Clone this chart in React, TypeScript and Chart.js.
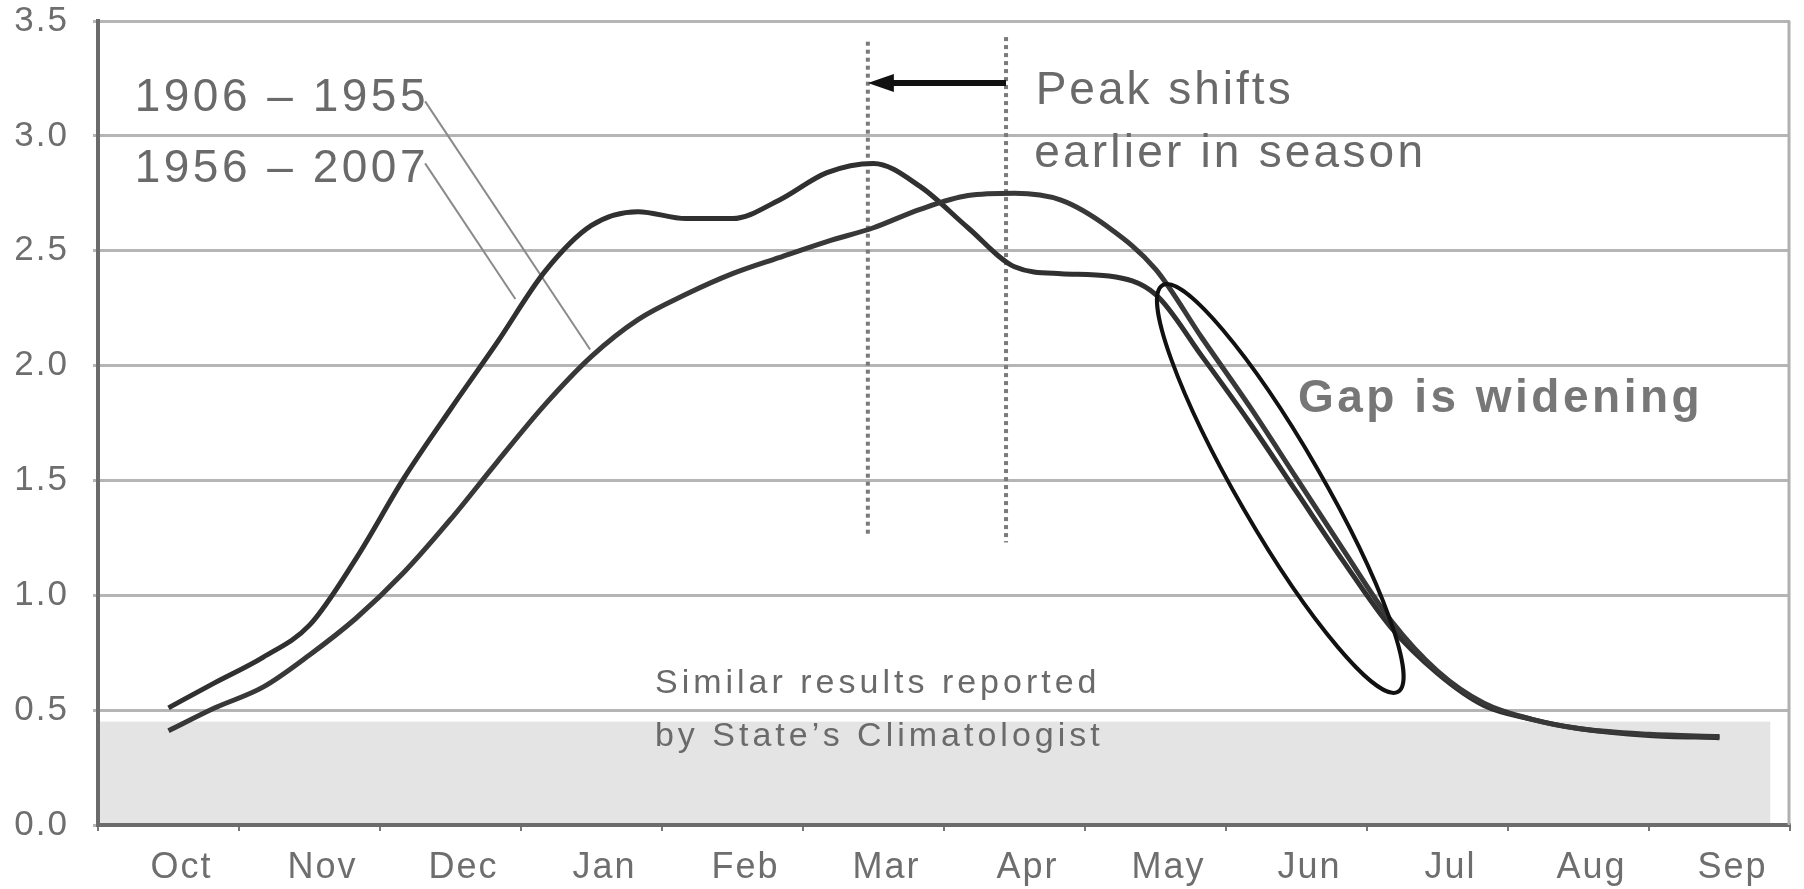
import React, { useEffect, useRef } from 'react';
import { Chart, registerables } from 'chart.js';

Chart.register(...registerables);

// Categories (months of the water year)
const monthLabels = ['Oct', 'Nov', 'Dec', 'Jan', 'Feb', 'Mar', 'Apr', 'May', 'Jun', 'Jul', 'Aug', 'Sep'];

// Positions along the season (month index, 0 = Oct)
const samplePos = [0, 0.33, 0.67, 1, 1.33, 1.67, 2, 2.33, 2.67, 3, 3.33, 3.67, 4, 4.33, 4.67, 5, 5.33, 5.67, 6, 6.33, 6.67, 7, 7.33, 7.67, 8, 8.33, 8.67, 9, 9.33, 9.67, 10, 10.5, 11];

// 1956 – 2007 (earlier peak)
const series1956 = [0.51, 0.62, 0.73, 0.87, 1.16, 1.51, 1.81, 2.1, 2.41, 2.61, 2.67, 2.64, 2.64, 2.72, 2.84, 2.88, 2.78, 2.6, 2.43, 2.4, 2.39, 2.31, 2.04, 1.75, 1.45, 1.15, 0.86, 0.66, 0.52, 0.46, 0.42, 0.39, 0.38];

// 1906 – 1955 (later peak)
const series1906 = [0.41, 0.51, 0.6, 0.74, 0.9, 1.1, 1.33, 1.58, 1.83, 2.04, 2.2, 2.31, 2.4, 2.47, 2.54, 2.6, 2.68, 2.74, 2.75, 2.72, 2.6, 2.42, 2.12, 1.82, 1.51, 1.2, 0.89, 0.67, 0.53, 0.46, 0.42, 0.395, 0.385];

// Annotations, in data units (month index, value)
const peakLines = [
  { m: 4.96, from: 1.26, to: 3.41 },
  { m: 5.94, from: 1.23, to: 3.43 },
];
const shiftArrow = { from: 5.94, to: 4.96, v: 3.23 };
const lowBand = { mEnd: 11.36, vTop: 0.45 };
const gapEllipse = { m1: 7.05, v1: 2.35, m2: 8.72, v2: 0.58, halfWidth: 42 };
const connectors = [
  { m1: 1.82, v1: 3.15, m2: 2.99, v2: 2.07 },
  { m1: 1.82, v1: 2.88, m2: 2.46, v2: 2.29 },
];
const texts = [
  { s: '1906 – 1955', m: -0.24, v: 3.11, size: 46, bold: false, ls: 3.5, color: '#6a6a6a' },
  { s: '1956 – 2007', m: -0.24, v: 2.8, size: 46, bold: false, ls: 3.5, color: '#6a6a6a' },
  { s: 'Peak shifts', m: 6.15, v: 3.14, size: 46, bold: false, ls: 3, color: '#6a6a6a' },
  { s: 'earlier in season', m: 6.14, v: 2.865, size: 46, bold: false, ls: 3.2, color: '#6a6a6a' },
  { s: 'Gap is widening', m: 8.01, v: 1.8, size: 46, bold: true, ls: 3.5, color: '#777777' },
  { s: 'Similar results reported', m: 3.45, v: 0.574, size: 34, bold: false, ls: 4, color: '#6a6a6a' },
  { s: 'by State’s Climatologist', m: 3.45, v: 0.343, size: 34, bold: false, ls: 4, color: '#6a6a6a' },
];

const FONT = '"Liberation Sans", Arial, Helvetica, sans-serif';

const overlayPlugin = {
  id: 'overlay',
  beforeDraw(chart: any) {
    const { ctx, chartArea } = chart;
    const xs = chart.scales.xl;
    const ys = chart.scales.y;
    ctx.save();
    ctx.fillStyle = '#e4e4e4';
    const x0 = chartArea.left + 2;
    const x1 = xs.getPixelForValue(lowBand.mEnd);
    const y0 = ys.getPixelForValue(lowBand.vTop);
    const y1 = ys.getPixelForValue(0);
    ctx.fillRect(x0, y0, x1 - x0, y1 - y0);
    ctx.restore();
    ctx.letterSpacing = '2px';
  },
  beforeDatasetsDraw(chart: any) {
    const { ctx, chartArea } = chart;
    const xs = chart.scales.xl;
    const ys = chart.scales.y;
    ctx.save();
    ctx.letterSpacing = '0px';
    // right border
    ctx.strokeStyle = '#b0b0b0';
    ctx.lineWidth = 3;
    ctx.beginPath();
    ctx.moveTo(chartArea.right - 1, chartArea.top);
    ctx.lineTo(chartArea.right - 1, chartArea.bottom);
    ctx.stroke();
    // dotted peak lines
    ctx.strokeStyle = '#7a7a7a';
    ctx.lineWidth = 4;
    ctx.setLineDash([4, 4]);
    for (const p of peakLines) {
      const x = xs.getPixelForValue(p.m);
      ctx.beginPath();
      ctx.moveTo(x, ys.getPixelForValue(p.to));
      ctx.lineTo(x, ys.getPixelForValue(p.from));
      ctx.stroke();
    }
    ctx.setLineDash([]);
    // connectors
    ctx.strokeStyle = '#8a8a8a';
    ctx.lineWidth = 2;
    for (const c of connectors) {
      ctx.beginPath();
      ctx.moveTo(xs.getPixelForValue(c.m1), ys.getPixelForValue(c.v1));
      ctx.lineTo(xs.getPixelForValue(c.m2), ys.getPixelForValue(c.v2));
      ctx.stroke();
    }
    ctx.restore();
  },
  afterDatasetsDraw(chart: any) {
    const { ctx } = chart;
    const xs = chart.scales.xl;
    const ys = chart.scales.y;
    ctx.save();
    ctx.letterSpacing = '0px';
    // arrow
    const ay = ys.getPixelForValue(shiftArrow.v);
    const ax0 = xs.getPixelForValue(shiftArrow.from);
    const ax1 = xs.getPixelForValue(shiftArrow.to);
    const head = 26;
    ctx.strokeStyle = '#111';
    ctx.fillStyle = '#111';
    ctx.lineWidth = 6;
    ctx.beginPath();
    ctx.moveTo(ax0, ay);
    ctx.lineTo(ax1 + head - 2, ay);
    ctx.stroke();
    ctx.beginPath();
    ctx.moveTo(ax1, ay);
    ctx.lineTo(ax1 + head, ay - 9);
    ctx.lineTo(ax1 + head, ay + 9);
    ctx.closePath();
    ctx.fill();
    // ellipse
    const p1x = xs.getPixelForValue(gapEllipse.m1);
    const p1y = ys.getPixelForValue(gapEllipse.v1);
    const p2x = xs.getPixelForValue(gapEllipse.m2);
    const p2y = ys.getPixelForValue(gapEllipse.v2);
    const cx = (p1x + p2x) / 2;
    const cy = (p1y + p2y) / 2;
    const a = Math.hypot(p2x - p1x, p2y - p1y) / 2;
    const ang = Math.atan2(p2y - p1y, p2x - p1x);
    ctx.beginPath();
    ctx.ellipse(cx, cy, a, gapEllipse.halfWidth, ang, 0, Math.PI * 2);
    ctx.lineWidth = 4;
    ctx.strokeStyle = '#111';
    ctx.stroke();
    // texts
    for (const t of texts) {
      ctx.font = `${t.bold ? 'bold ' : ''}${t.size}px ${FONT}`;
      ctx.letterSpacing = `${t.ls}px`;
      ctx.fillStyle = t.color;
      ctx.textAlign = 'left';
      ctx.textBaseline = 'alphabetic';
      ctx.fillText(t.s, xs.getPixelForValue(t.m), ys.getPixelForValue(t.v));
    }
    ctx.restore();
  },
  afterDraw(chart: any) {
    chart.ctx.letterSpacing = '0px';
  },
};

export default function App() {
  const ref = useRef<HTMLCanvasElement | null>(null);
  useEffect(() => {
    if (!ref.current) return;
    const mk = (vals: number[]) => samplePos.map((m, i) => ({ x: m, y: vals[i] }));
    const chart = new Chart(ref.current, {
      type: 'line',
      data: {
        datasets: [
          {
            label: '1906 – 1955',
            data: mk(series1906),
            xAxisID: 'xl',
            yAxisID: 'y',
            borderColor: '#383838',
            borderWidth: 5,
            pointRadius: 0,
            cubicInterpolationMode: 'monotone',
            fill: false,
          },
          {
            label: '1956 – 2007',
            data: mk(series1956),
            xAxisID: 'xl',
            yAxisID: 'y',
            borderColor: '#303030',
            borderWidth: 5,
            pointRadius: 0,
            cubicInterpolationMode: 'monotone',
            fill: false,
          },
        ],
      } as any,
      options: {
        animation: false,
        responsive: false,
        devicePixelRatio: 1,
        layout: { padding: { top: 21, right: 14, left: 0, bottom: 0 } },
        plugins: { legend: { display: false }, tooltip: { enabled: false } },
        scales: {
          xl: { type: 'linear', position: 'bottom', min: -0.5, max: 11.5, display: false },
          x: {
            type: 'category',
            labels: monthLabels,
            position: 'bottom',
            offset: true,
            grid: { offset: true, drawOnChartArea: false, drawTicks: true, tickLength: 6, color: '#777', lineWidth: 2 },
            border: { display: true, color: '#6b6b6b', width: 4 },
            ticks: { font: { family: FONT, size: 36 }, color: '#6e6e6e', padding: 15, labelOffset: 13, maxRotation: 0, autoSkip: false },
            afterFit(s: any) { s.height = 64; s.paddingLeft = 0; s.paddingRight = 0; },
          },
          y: {
            type: 'linear',
            min: 0,
            max: 3.5,
            ticks: { stepSize: 0.5, callback: (v: any) => Number(v).toFixed(1), font: { family: FONT, size: 35 }, color: '#6e6e6e', padding: 24 },
            grid: { color: '#b5b5b5', lineWidth: 3, tickLength: 5, drawTicks: true },
            border: { display: true, color: '#6b6b6b', width: 4 },
            afterFit(s: any) { s.width = 98; s.paddingTop = 0; s.paddingBottom = 0; },
          },
        },
      } as any,
      plugins: [overlayPlugin],
    });
    return () => chart.destroy();
  }, []);
  return (
    <div style={{ position: 'absolute', left: 0, top: 0, width: 1804, height: 889, background: '#fff' }}>
      <canvas ref={ref} width={1804} height={889} style={{ width: 1804, height: 889, display: 'block' }} />
    </div>
  );
}
